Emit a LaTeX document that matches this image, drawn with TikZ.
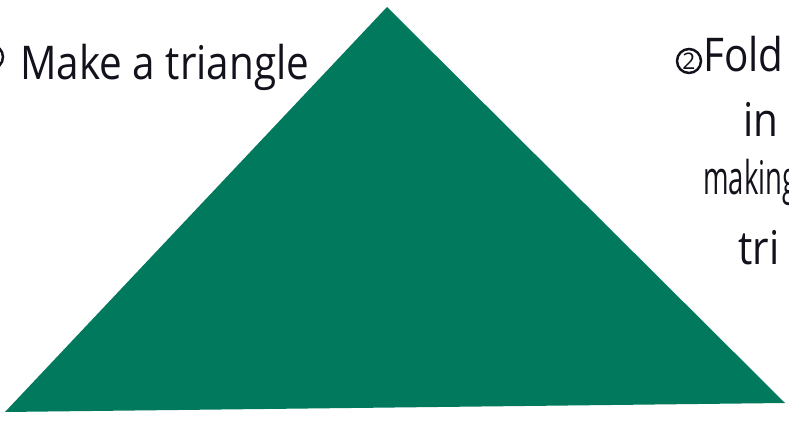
\documentclass[tikz,border=0pt]{standalone}
\usepackage{fontspec}
\setmainfont{Open Sans}
\definecolor{paper}{RGB}{0,121,93}
\definecolor{ink}{RGB}{18,18,28}
\begin{document}
\begin{tikzpicture}[x=0.02cm, y=-0.02cm, font=\fontsize{23}{28}\selectfont,
    hand/.style={anchor=base west, inner sep=0pt, text=ink, yscale=1.15, transform shape},
    num/.style={draw=ink, circle, line width=1.4pt, inner sep=0pt, minimum size=0.48cm,
      text=ink, font=\fontsize{13}{15}\selectfont}]
  \useasboundingbox[fill=white] (0,0) rectangle (789,425);
  \clip (0,0) rectangle (789,425);
  % the folded paper
  \coordinate (apex) at (387,7);
  \coordinate (lb) at (5,412);
  \coordinate (rb) at (785,403);
  \fill[paper] (apex) -- (rb) -- (lb) -- cycle;
  % step 1
  \node[num] (n1) at (-9,57) {1};
  \node[hand] (s1) at (20,80) {Make a triangle};
  % step 2
  \node[num] (n2) at (689,61) {2};
  \node[hand] (s2a) at (703,72) {Fold};
  \node[hand] (s2b) at (743,137) {in};
  \node[hand, xscale=0.68] (s2c) at (703,195) {making};
  \node[hand] (s2d) at (738,265) {tri};
\end{tikzpicture}
\end{document}
